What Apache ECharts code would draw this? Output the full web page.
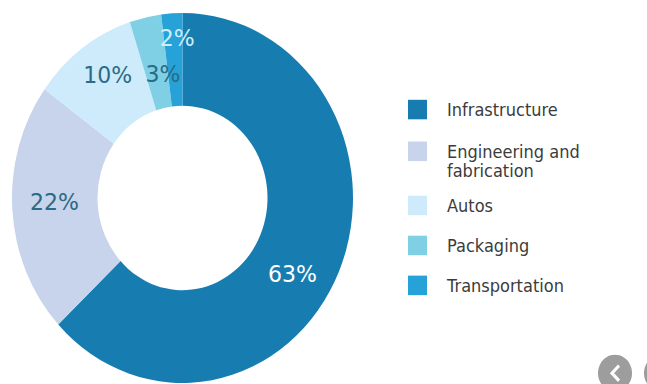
<!DOCTYPE html>
<html><head><meta charset="utf-8">
<script src="https://cdn.jsdelivr.net/npm/echarts@6/dist/echarts.min.js"></script>
<style>
html,body{margin:0;padding:0;background:#fff;overflow:hidden}
#wrap{width:647px;height:384px;overflow:hidden}
#c{width:647px;height:354px;transform:scaleY(1.0847);transform-origin:0 0}
</style>
</head><body><div id="wrap"><div id="c"></div></div>
<script>
// ---- data ----
const categories = ['Infrastructure', 'Engineering and fabrication', 'Autos', 'Packaging', 'Transportation'];
const shares = [63, 22, 10, 3, 2];
const legendLabels = ['Infrastructure', 'Engineering and\nfabrication', 'Autos', 'Packaging', 'Transportation'];

// ---- style ----
const palette = ['#177db1', '#c8d3ec', '#cdebfa', '#7fcfe5', '#27a2d8'];
const labelColors = ['#ffffff', '#2a6b86', '#2a6b86', '#2a6b86', '#cdeefa'];
const labelShift = [[-10, 17.5], [2.5, -4.8], [2, -8.2], [9, 13.2], [3, -17.6]];
const legendTops = [92, 112.5, 180.4, 217.3, 254.1];
const FONT = 'DejaVu Sans';

const chart = echarts.init(document.getElementById('c'), null, {renderer: 'svg'});

const legends = categories.map((name, i) => ({
  orient: 'vertical',
  left: 408,
  top: legendTops[i],
  padding: 0,
  itemWidth: 19,
  itemHeight: 18,
  icon: 'rect',
  selectedMode: false,
  data: [name],
  formatter: () => (i === 1 ? '\n' : '') + legendLabels[i],
  textStyle: {
    fontFamily: FONT,
    fontSize: 16.2,
    color: '#3c3c3c',
    lineHeight: 18,
    padding: [0, 0, 0, 15]
  }
}));

chart.setOption({
  animation: false,
  color: palette,
  legend: legends,
  series: [{
    type: 'pie',
    center: [182.5, 182.5],
    radius: [85, 170.5],
    startAngle: 90,
    clockwise: true,
    avoidLabelOverlap: false,
    itemStyle: {borderWidth: 0},
    label: {
      show: true,
      position: 'inside',
      fontFamily: FONT,
      fontSize: 22,
      formatter: p => p.value + '%'
    },
    labelLine: {show: false},
    labelLayout: p => ({dx: labelShift[p.dataIndex][0], dy: labelShift[p.dataIndex][1]}),
    emphasis: {disabled: true},
    data: categories.map((name, i) => ({
      name: name,
      value: shares[i],
      label: {color: labelColors[i]}
    }))
  }],
  graphic: [
    {type: 'circle', shape: {cx: 615, cy: 344, r: 17}, style: {fill: '#9d9d9d'}, silent: true},
    {type: 'polyline', shape: {points: [[619, 337], [612, 344], [619, 351]]}, style: {stroke: '#ffffff', lineWidth: 3, fill: null}, silent: true},
    {type: 'circle', shape: {cx: 661, cy: 344, r: 17}, style: {fill: '#9d9d9d'}, silent: true}
  ]
});
</script>
</body></html>
